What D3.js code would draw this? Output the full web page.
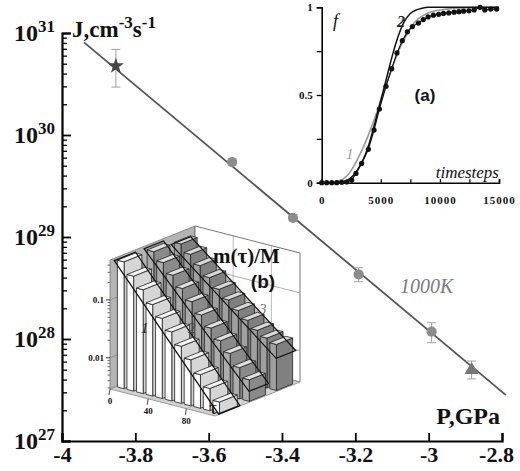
<!DOCTYPE html>
<html><head><meta charset="utf-8">
<script src="https://cdn.jsdelivr.net/npm/d3@7"></script>
<style>body{margin:0;background:#fff}svg{display:block}</style>
</head><body>
<script>
// ---------- main chart data ----------
const pressure   = [-3.853, -3.536, -3.370, -3.191, -2.992, -2.883];
const rate       = [4.75e30, 5.43e29, 1.54e29, 4.3e28, 1.18e28, 4.97e27];
const rateLo     = [2.95e30, 5.07e29, 1.44e29, 3.65e28, 9.2e27, 4.06e27];
const rateHi     = [6.9e30, 5.82e29, 1.65e29, 5.0e28, 1.445e28, 6.08e27];
const markerKind = ["star", "circle", "circle", "circle", "circle", "triangle"];
const fitPressure = [-3.94, -2.79];
const fitRate     = [8.1e30, 2.83e27];
const xTickValues = [-4, -3.8, -3.6, -3.4, -3.2, -3, -2.8];
const xTickLabels = ["-4", "-3.8", "-3.6", "-3.4", "-3.2", "-3", "-2.8"];
const yDecades    = [27, 28, 29, 30, 31];

// ---------- inset (a) data ----------
const steps    = [0,420,850,1270,1690,2120,2540,2900,3380,3950,4430,4880,5440,5920,6370,6820,7250,7670,8180,8600,9000,9450,9900,10300,10750,11200,11600,12000,12450,12900,13400,13800,14300,14800];
const fraction = [0,0,0,0,0.002,0.004,0.015,0.053,0.11,0.19,0.30,0.42,0.55,0.65,0.74,0.81,0.86,0.89,0.91,0.93,0.945,0.955,0.96,0.965,0.968,0.972,0.975,0.978,0.98,0.985,1.0,0.985,0.99,0.99];
const curveSteps = [0,1000,1500,2000,2500,3000,3500,4000,4500,5000,5500,6000,6500,7000,7500,8000,8500,9000,10000,11000,12000,15000];
const curve1     = [0,0.003,0.012,0.03,0.07,0.13,0.2,0.28,0.37,0.47,0.57,0.66,0.75,0.82,0.88,0.925,0.95,0.968,0.985,0.993,0.997,1];
const curve2     = [0,0,0.003,0.01,0.03,0.07,0.13,0.22,0.34,0.47,0.6,0.73,0.84,0.92,0.965,0.985,0.995,1,1,1,1,1];
const aXTicks = [0,2500,5000,7500,10000,12500,15000];
const aXLabels = [0,5000,10000,15000];
const aYTicks = [0,0.25,0.5,0.75,1];
const aYLabels = [0,0.5,1];

// ---------- inset (b) data ----------
const tau = [0,10,20,30,40,50,60,70,80,90,100];
const massFrac1 = [0.45,0.28,0.18,0.11,0.07,0.045,0.028,0.018,0.011,0.007,0.0045];
const massFrac2 = [0.42,0.3,0.2,0.13,0.085,0.055,0.036,0.024,0.016,0.01,0.0068];
const massFrac3 = [0.37,0.27,0.19,0.13,0.09,0.065,0.047,0.035,0.026,0.021,0.018];
const bTauTicks = [0,40,80];
const bYTicks = [0.1,0.01];
const bYLabels = ["0.1","0.01"];

const W = 520, H = 471;
const svg = d3.select("body").append("svg").attr("width", W).attr("height", H);
const serif = "'Liberation Serif','Times New Roman',serif";
const sans = "'Liberation Sans',Arial,sans-serif";

// ---------- main chart ----------
const x = d3.scaleLinear([-4, -2.8], [62, 502]);
const y = d3.scaleLog([1e27, 1e31], [441, 33]);

const xAxis = d3.axisBottom(x).tickValues(xTickValues).tickSize(-8).tickPadding(5)
  .tickFormat((d, i) => xTickLabels[i]);
const gx = svg.append("g").attr("transform", "translate(0,441)").call(xAxis);
gx.select(".domain").attr("stroke-width", 2.2);
gx.selectAll(".tick line").attr("stroke-width", 1.8);
gx.selectAll("text").attr("font-family", serif).attr("font-weight", "bold").attr("font-size", 22).attr("fill", "#111");
gx.selectAll(".tick text").filter(d => d === -2.8).attr("dx", -6);

const majorVals = yDecades.map(d => Math.pow(10, d));
const minorVals = [];
yDecades.slice(0, -1).forEach(d => { for (let m = 2; m <= 9; m++) minorVals.push(m * Math.pow(10, d)); });
const gyMinor = svg.append("g").attr("transform", "translate(62,0)")
  .call(d3.axisLeft(y).tickValues(minorVals).tickSize(-5).tickFormat(""));
gyMinor.select(".domain").remove();
gyMinor.selectAll(".tick line").attr("stroke-width", 1.3);
const gy = svg.append("g").attr("transform", "translate(62,0)")
  .call(d3.axisLeft(y).tickValues(majorVals).tickSize(-9).tickFormat(""));
gy.select(".domain").attr("stroke-width", 2.2);
gy.selectAll(".tick line").attr("stroke-width", 1.8);

yDecades.forEach(d => {
  const t = svg.append("text").attr("x", 55).attr("y", y(Math.pow(10, d)) + 8)
    .attr("text-anchor", "end").attr("font-family", serif).attr("font-weight", "bold")
    .attr("font-size", 24).attr("fill", "#111");
  t.append("tspan").text("10");
  t.append("tspan").attr("dy", -9).attr("font-size", 17).text(String(d));
});

// axis titles
const jt = svg.append("text").attr("x", 72).attr("y", 37).attr("font-family", serif)
  .attr("font-weight", "bold").attr("font-size", 23).attr("fill", "#111");
jt.append("tspan").text("J,cm");
jt.append("tspan").attr("dy", -9).attr("font-size", 17).text("-3");
jt.append("tspan").attr("dy", 9).text("s");
jt.append("tspan").attr("dy", -9).attr("font-size", 17).text("-1");
svg.append("text").attr("x", 500).attr("y", 424).attr("text-anchor", "end")
  .attr("font-family", serif).attr("font-weight", "bold").attr("font-size", 24).attr("fill", "#111").text("P,GPa");
svg.append("text").attr("x", 400).attr("y", 293).attr("font-family", serif)
  .attr("font-style", "italic").attr("font-size", 20).attr("fill", "#7a7a7a").text("1000K");

// ---------- inset (b) ----------
const gb = svg.append("g");
const bO = [110, 389], bT = [105, 27], bD = [85, -34];
const tauFrac = d3.scaleLinear([0, 110], [0, 1]);
const zH = d3.scaleLog([0.00288, 0.49], [0, 129]);
const zMin = 0.00288, zMax = 0.49;
function P(t, s, v) {
  const a = tauFrac(t), h = zH(Math.min(Math.max(v, zMin), zMax));
  return [bO[0] + a * bT[0] + s * bD[0], bO[1] + a * bT[1] + s * bD[1] - h];
}
const poly = pts => "M" + pts.map(p => p.join(",")).join("L") + "Z";
const line2 = (a, b) => "M" + a.join(",") + "L" + b.join(",");

gb.append("path").attr("d", poly([P(0,0,zMin), P(0,1,zMin), P(0,1,zMax), P(0,0,zMax)]))
  .attr("fill", "#b4b4b4").attr("stroke", "#777").attr("stroke-width", 0.8);
gb.append("path").attr("d", poly([P(0,1,zMin), P(110,1,zMin), P(110,1,zMax), P(0,1,zMax)]))
  .attr("fill", "#fff").attr("stroke", "#666").attr("stroke-width", 0.9);
gb.append("path").attr("d", poly([P(0,0,zMin), P(110,0,zMin), P(110,1,zMin), P(0,1,zMin)]))
  .attr("fill", "#d2d2d2").attr("stroke", "#888").attr("stroke-width", 0.8);
bYTicks.forEach(v => {
  gb.append("path").attr("d", line2(P(0,1,v), P(110,1,v))).attr("stroke", "#999").attr("stroke-width", 0.8);
  gb.append("path").attr("d", line2(P(0,0,v), P(0,1,v))).attr("stroke", "#888").attr("stroke-width", 0.8);
});
[40, 80].forEach(t => {
  gb.append("path").attr("d", line2(P(t,1,zMin), P(t,1,zMax))).attr("stroke", "#aaa").attr("stroke-width", 0.8);
  gb.append("path").attr("d", line2(P(t,0,zMin), P(t,1,zMin))).attr("stroke", "#aaa").attr("stroke-width", 0.6);
});

const rows = [
  {vals: massFrac3, s0: 0.72, s1: 0.95, front: "#a0a0a0", side: "#808080", top: "#d8d8d8"},
  {vals: massFrac2, s0: 0.40, s1: 0.63, front: "#acacac", side: "#8a8a8a", top: "#e0e0e0"},
  {vals: massFrac1, s0: 0.05, s1: 0.30, front: "#ffffff", side: "#d6d6d6", top: "#f6f6f6"}
];
rows.forEach(r => {
  const lx = tau, ly = r.vals.map(v => Math.log10(v));
  const mx = d3.mean(lx), my = d3.mean(ly);
  const b = d3.sum(lx.map((t, i) => (t - mx) * (ly[i] - my))) / d3.sum(lx.map(t => (t - mx) ** 2));
  const a = my - b * mx;
  const fit = t => Math.pow(10, a + b * t);
  let tEnd = 110;
  if (fit(110) < zMin) tEnd = (Math.log10(zMin) - a) / b;
  const strip = [P(0, r.s0, fit(0)), P(tEnd, r.s0, fit(tEnd)), P(tEnd, r.s1, fit(tEnd)), P(0, r.s1, fit(0))];
  gb.append("path").attr("d", poly(strip)).attr("fill", "#808080").attr("fill-opacity", 0.5).attr("stroke", "none");
  tau.forEach((t, i) => {
    const v = r.vals[i];
    const t0 = t + 1.5, t1 = t + 8.5, s0 = r.s0 + 0.02, s1 = r.s1 - 0.02;
    const g = gb.append("g").attr("stroke", "#222").attr("stroke-width", 0.8).attr("stroke-linejoin", "round");
    g.append("path").attr("d", poly([P(t1,s0,zMin), P(t1,s1,zMin), P(t1,s1,v), P(t1,s0,v)])).attr("fill", r.side);
    g.append("path").attr("d", poly([P(t0,s0,zMin), P(t1,s0,zMin), P(t1,s0,v), P(t0,s0,v)])).attr("fill", r.front);
    g.append("path").attr("d", poly([P(t0,s0,v), P(t1,s0,v), P(t1,s1,v), P(t0,s1,v)])).attr("fill", r.top);
  });
  gb.append("path").attr("d", poly(strip)).attr("fill", "none").attr("stroke", "#111").attr("stroke-width", 1.2);
});

const bMinor = [];
[0.001, 0.01, 0.1].forEach(d => { for (let m = 2; m <= 9; m++) { const v = m * d; if (v > zMin && v < zMax) bMinor.push(v); } });
bMinor.forEach(v => { const p = P(0,0,v); gb.append("path").attr("d", `M${p[0]},${p[1]}h-2.5`).attr("stroke", "#333").attr("stroke-width", 0.7); });
bYTicks.forEach((v, i) => {
  const p = P(0,0,v);
  gb.append("path").attr("d", `M${p[0]},${p[1]}h-4`).attr("stroke", "#222").attr("stroke-width", 0.9);
  gb.append("text").attr("x", p[0] - 6).attr("y", p[1] + 3).attr("text-anchor", "end")
    .attr("font-family", serif).attr("font-weight", "bold").attr("font-size", 9).attr("fill", "#111").text(bYLabels[i]);
});
bTauTicks.forEach(t => {
  const p = P(t,0,zMin);
  gb.append("path").attr("d", `M${p[0]},${p[1]}l-1,6`).attr("stroke", "#333").attr("stroke-width", 0.9);
  gb.append("text").attr("x", p[0]).attr("y", p[1] + 15).attr("text-anchor", "middle")
    .attr("font-family", serif).attr("font-weight", "bold").attr("font-size", 9).attr("fill", "#111").text(t);
});
gb.append("text").attr("x", 213).attr("y", 414).attr("text-anchor", "middle").attr("font-family", serif)
  .attr("font-size", 19).attr("fill", "#111").text("τ");
gb.append("text").attr("x", 213).attr("y", 263).attr("font-family", serif).attr("font-weight", "bold")
  .attr("font-size", 21).attr("fill", "#111").text("m(τ)/M");
gb.append("text").attr("x", 263).attr("y", 288).attr("text-anchor", "middle").attr("font-family", sans)
  .attr("font-weight", "bold").attr("font-size", 19).attr("fill", "#111").text("(b)");
gb.append("text").attr("x", 141).attr("y", 333).attr("font-family", serif).attr("font-style", "italic")
  .attr("font-size", 15).attr("fill", "#222").text("1");
gb.append("text").attr("x", 188).attr("y", 333).attr("font-family", serif).attr("font-style", "italic")
  .attr("font-size", 15).attr("fill", "#444").text("2");
gb.append("text").attr("x", 259).attr("y", 314).attr("font-family", serif).attr("font-style", "italic")
  .attr("font-size", 15).attr("fill", "#777").text("3");

// ---------- main line & markers ----------
svg.append("path")
  .attr("d", d3.line().x(d => x(d[0])).y(d => y(d[1]))(fitPressure.map((p, i) => [p, fitRate[i]])))
  .attr("stroke", "#555").attr("stroke-width", 1.8).attr("fill", "none");
const eb = svg.append("g").attr("stroke", "#a8a8a8").attr("stroke-width", 1.1);
pressure.forEach((p, i) => {
  const cx = x(p);
  eb.append("line").attr("x1", cx).attr("x2", cx).attr("y1", y(rateLo[i])).attr("y2", y(rateHi[i]));
  eb.append("line").attr("x1", cx - 4.5).attr("x2", cx + 4.5).attr("y1", y(rateLo[i])).attr("y2", y(rateLo[i]));
  eb.append("line").attr("x1", cx - 4.5).attr("x2", cx + 4.5).attr("y1", y(rateHi[i])).attr("y2", y(rateHi[i]));
});
const symMap = {star: [d3.symbolStar, 80, "#444"], circle: [d3.symbolCircle, 82, "#8c8c8c"], triangle: [d3.symbolTriangle, 85, "#777"]};
pressure.forEach((p, i) => {
  const [type, size, col] = symMap[markerKind[i]];
  svg.append("path").attr("d", d3.symbol(type, size)())
    .attr("transform", `translate(${x(p)},${y(rate[i])})`).attr("fill", col);
});

// ---------- inset (a) ----------
const ga = svg.append("g");
const xa = d3.scaleLinear([0, 15000], [321.7, 499]);
const ya = d3.scaleLinear([0, 1], [182.7, 7.3]);
const gax = ga.append("g").attr("transform", "translate(0,182.7)")
  .call(d3.axisBottom(xa).tickValues(aXTicks).tickSize(-3.5).tickPadding(14).tickFormat(d => aXLabels.includes(d) ? d : ""));
gax.select(".domain").attr("stroke-width", 1.6);
gax.selectAll(".tick line").attr("stroke-width", 1.3);
gax.selectAll("text").attr("font-family", serif).attr("font-weight", "bold").attr("font-size", 11)
  .attr("letter-spacing", 1).attr("fill", "#111");
const gay = ga.append("g").attr("transform", "translate(321.7,0)")
  .call(d3.axisLeft(ya).tickValues(aYTicks).tickSize(5).tickPadding(4).tickFormat(d => aYLabels.includes(d) ? d : ""));
gay.select(".domain").attr("stroke-width", 1.6);
gay.selectAll(".tick line").attr("stroke-width", 1.3);
gay.selectAll("text").attr("font-family", serif).attr("font-weight", "bold").attr("font-size", 11).attr("fill", "#111");

const la = d3.line().x(d => xa(d[0])).y(d => ya(d[1])).curve(d3.curveMonotoneX);
ga.append("path").attr("d", la(curveSteps.map((t, i) => [t, curve1[i]])))
  .attr("stroke", "#9a9a9a").attr("stroke-width", 1.6).attr("fill", "none");
ga.append("path").attr("d", la(curveSteps.map((t, i) => [t, curve2[i]])))
  .attr("stroke", "#111").attr("stroke-width", 1.5).attr("fill", "none");
ga.append("path").attr("d", d3.line().x(d => xa(d[0])).y(d => ya(d[1]))(steps.map((t, i) => [t, fraction[i]])))
  .attr("stroke", "#111").attr("stroke-width", 1.2).attr("fill", "none");
ga.selectAll("circle.dot").data(steps).join("circle").attr("class", "dot")
  .attr("cx", d => xa(d)).attr("cy", (d, i) => ya(fraction[i])).attr("r", 2.6).attr("fill", "#111");

ga.append("text").attr("x", 333).attr("y", 27).attr("font-family", serif).attr("font-style", "italic")
  .attr("font-size", 18).attr("fill", "#111").text("f");
ga.append("text").attr("x", 397).attr("y", 27).attr("font-family", serif).attr("font-style", "italic")
  .attr("font-weight", "bold").attr("font-size", 16).attr("fill", "#222").text("2");
ga.append("text").attr("x", 346).attr("y", 159).attr("font-family", serif).attr("font-style", "italic")
  .attr("font-size", 15).attr("fill", "#999").text("1");
ga.append("text").attr("x", 425).attr("y", 101).attr("text-anchor", "middle").attr("font-family", sans)
  .attr("font-weight", "bold").attr("font-size", 17).attr("fill", "#111").text("(a)");
ga.append("text").attr("x", 499).attr("y", 178).attr("text-anchor", "end").attr("font-family", serif)
  .attr("font-style", "italic").attr("font-size", 17).attr("fill", "#111").text("timesteps");
</script>
</body></html>
